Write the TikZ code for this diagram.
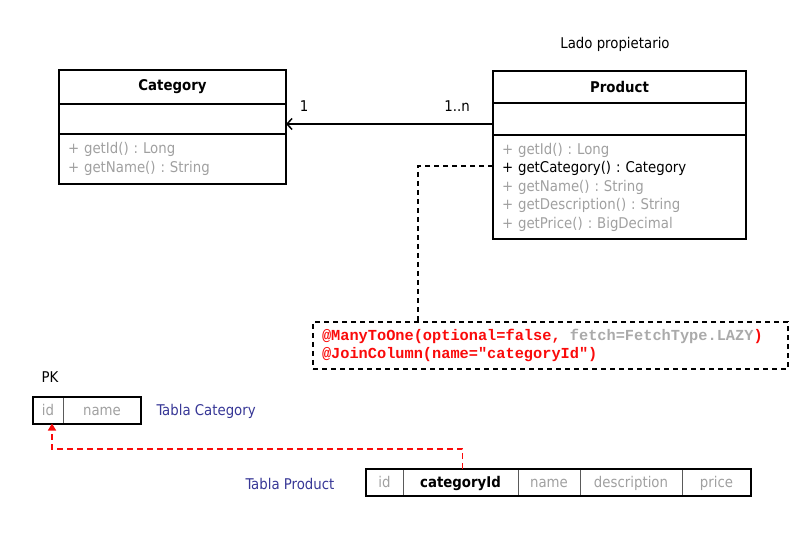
\documentclass[tikz,border=0pt]{standalone}
\usepackage{fontspec}
\setmainfont{DejaVu Sans Condensed}
\newfontfamily\codefont{Liberation Mono}
\usetikzlibrary{positioning,arrows.meta}
\definecolor{methodgray}{RGB}{160,160,160}
\definecolor{tablablue}{RGB}{55,55,150}
\definecolor{annotred}{RGB}{250,10,10}
\definecolor{lazygray}{RGB}{170,170,170}
\definecolor{celledge}{RGB}{90,90,90}

\tikzset{
  umlpart/.style={draw, line width=1.6pt, outer sep=0pt, inner sep=0pt, minimum width=#1},
  classhead/.style={umlpart=#1, font=\fontsize{14.8}{17}\selectfont\bfseries},
  methods/.style={umlpart=#1, text=methodgray, align=left, inner xsep=9pt,
    text width=#1-18pt, font=\fontsize{14.8}{18.5}\selectfont},
  plain/.style={font=\fontsize{14.8}{17}\selectfont},
  tcell/.style={draw=celledge, line width=0.9pt, outer sep=0pt, inner sep=0pt,
    minimum height=26.5pt, minimum width=#1, text height=11pt, text depth=0pt,
    text=methodgray, font=\fontsize{14.8}{17}\selectfont},
  tableframe/.style={draw, line width=2pt},
  notebox/.style={draw, dashed, line width=1.3pt, dash pattern=on 5pt off 4pt, outer sep=0pt,
    inner xsep=9pt, align=left, text width=457pt, minimum height=47pt,
    text=annotred, font=\fontsize{15.3}{18}\selectfont\codefont\bfseries},
  notedash/.style={draw, line width=1.3pt, dash pattern=on 5pt off 4pt},
  fkarrow/.style={draw=annotred, line width=1.5pt, dash pattern=on 6pt off 4pt,
    -{Triangle[width=8pt,length=7pt]}}
}

\begin{document}
\frenchspacing
\begin{tikzpicture}[x=1pt,y=-1pt]
    \useasboundingbox (0,0) rectangle (808,537);

    % Clase Category
    \node[classhead=227pt, minimum height=34pt, anchor=north west] (chead) at (59,70) {Category};
    \node[umlpart=227pt, minimum height=30pt, below=0pt of chead] (cattr) {};
    \node[methods=227pt, minimum height=50pt, below=0pt of cattr] (cmeth)
        {+ getId() : Long\\+ getName() : String};

    % Clase Product
    \node[classhead=253pt, minimum height=32pt, anchor=north west] (phead) at (493,71) {Product};
    \node[umlpart=253pt, minimum height=32pt, below=0pt of phead] (pattr) {};
    \node[methods=253pt, minimum height=104pt, below=0pt of pattr] (pmeth)
        {+ getId() : Long\\\textcolor{black}{+ getCategory() : Category}\\+ getName() : String\\
         + getDescription() : String\\+ getPrice() : BigDecimal};
    \node[plain] (owner) at (615,44) {Lado propietario};

    % Asociacion
    \draw[line width=1.5pt, -{Straight Barb[length=5pt,width=11pt]}]
        ([yshift=-5pt]pattr.west) -- ([yshift=-5pt]cattr.east);
    \node[plain] (multone) at (304,106) {1};
    \node[plain] (multmany) at (457,106) {1..n};

    % Anotaciones JPA
    \node[notebox, anchor=north west] (note) at (313,322)
        {@ManyToOne(optional=false,\hspace{0.6em}\textcolor{lazygray}{fetch=FetchType.LAZY})\\
         @JoinColumn(name="categoryId")};
    \coordinate (getcat) at ([yshift=-31pt]pmeth.north west);
    \draw[notedash] (getcat) -| ([xshift=105pt]note.north west);

    % Tabla Category
    \node[plain] (pk) at (50,377) {PK};
    \node[tcell=30pt, anchor=north west] (cid) at (33,397) {id};
    \node[tcell=78pt, right=0pt of cid] (cname) {name};
    \draw[tableframe] (cid.north west) rectangle (cname.south east);
    \node[plain, text=tablablue, anchor=west] (ctabla) at (153,411) {Tabla Category};

    % Tabla Product
    \node[tcell=37pt, anchor=north west] (pid) at (366,469) {id};
    \node[tcell=115pt, right=0pt of pid, text=black, font=\fontsize{14.8}{17}\selectfont\bfseries] (pcatid) {categoryId};
    \node[tcell=62pt, right=0pt of pcatid] (pname) {name};
    \node[tcell=102pt, right=0pt of pname] (pdesc) {description};
    \node[tcell=69pt, right=0pt of pdesc] (pprice) {price};
    \draw[tableframe] (pid.north west) rectangle (pprice.south east);
    \node[plain, text=tablablue, anchor=west] (ptabla) at (242,484) {Tabla Product};

    % Clave foranea
    \draw[fkarrow] ([xshift=2pt]pcatid.north) -- ++(0,-20) -| ([xshift=4pt]cid.south);
\end{tikzpicture}
\end{document}
